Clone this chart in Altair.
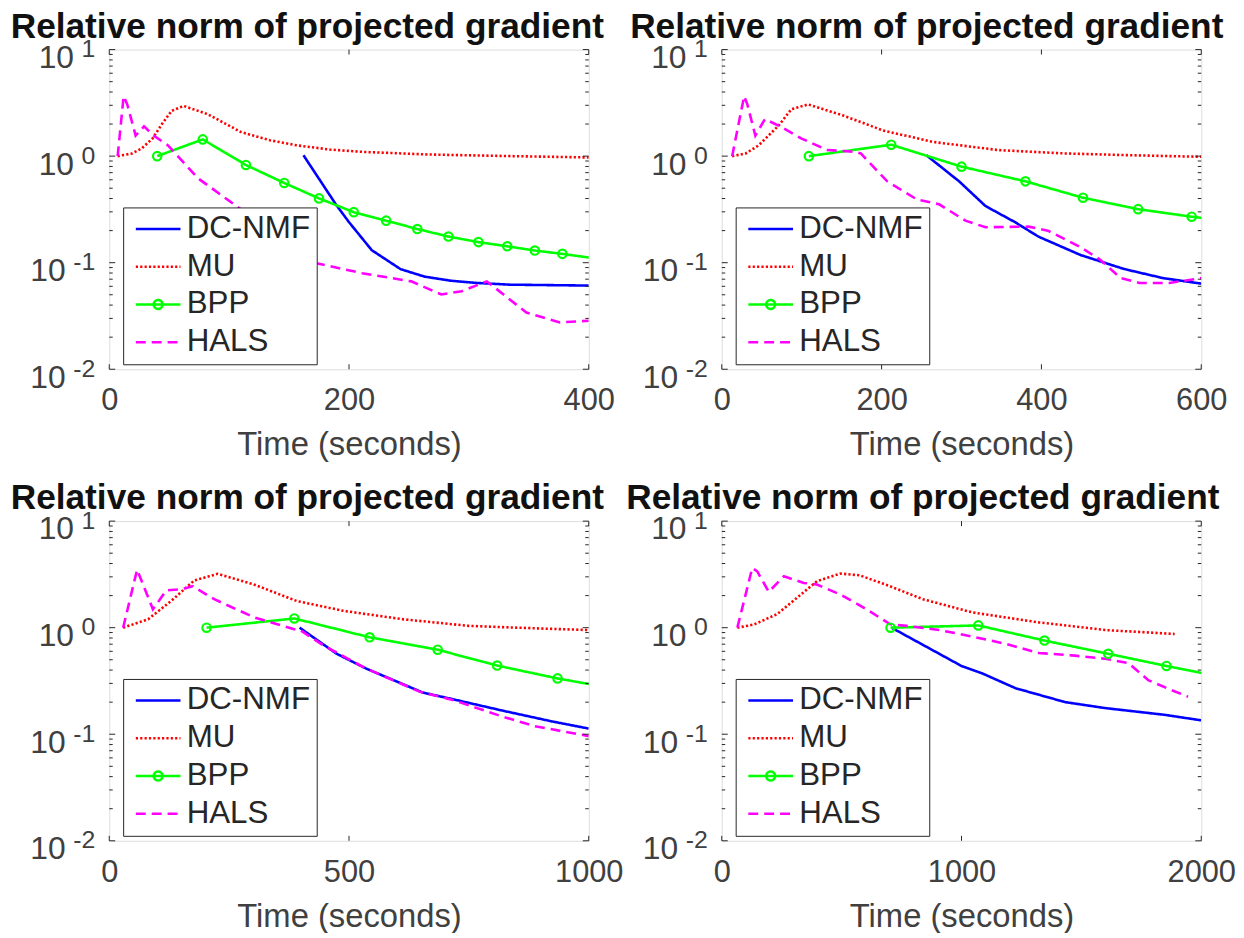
import altair as alt
import pandas as pd

FONT = "Liberation Sans"
AX = "#262626"
LAB = "#404040"

SERIES = ["DC-NMF", "MU", "BPP", "HALS"]
COLORS = ["#0000ff", "#ff0000", "#00ff00", "#ff00ff"]
DASHES = [[1, 0], [2.2, 2.2], [1, 0], [10, 6]]
LINE_PATH = "M-0.8,0H3.2"
BPP_PATH = "M-0.8,0H3.2M1.6,0A0.4,0.4,0,1,1,0.8,0A0.4,0.4,0,1,1,1.6,0"
SHAPES = [LINE_PATH, LINE_PATH, BPP_PATH, LINE_PATH]

TITLE = "Relative norm of projected gradient"
XTITLE = "Time (seconds)"

Y_TICKS = [0.01, 0.1, 1, 10]
Y_EXP = ["-2", "-1", "0", "1"]
Y_NEG = [True, True, False, False]
Y_MINOR = [m * d for d in [0.01, 0.1, 1] for m in range(2, 10)]

# ---------------- panel 1 ----------------
DC1_X = [162, 189, 200, 219, 243, 263, 285, 307, 334, 400]
DC1_Y = [1.02, 0.353, 0.24, 0.131, 0.087, 0.074, 0.0677, 0.0645, 0.0622, 0.061]
MU1_X = [7, 19, 27, 36, 44, 52, 62, 82, 110, 134, 156, 184, 211, 266, 321, 400]
MU1_Y = [1.0, 1.06, 1.18, 1.46, 2.0, 2.66, 2.96, 2.48, 1.68, 1.41, 1.265, 1.153, 1.097, 1.036, 1.007, 0.972]
BPP1_X = [40, 78, 114, 146, 175, 204, 231, 257, 283, 308, 332, 355, 378, 402]
BPP1_Y = [1.0, 1.436, 0.826, 0.56, 0.401, 0.298, 0.248, 0.207, 0.176, 0.156, 0.1425, 0.130, 0.121, 0.111]
HALS1_X = [7, 12, 15, 22, 29, 37, 49, 74, 104, 140, 173, 211, 252, 277, 294, 315, 348, 376, 400]
HALS1_Y = [1.0, 3.66, 3.06, 1.56, 1.9, 1.56, 1.26, 0.62, 0.353, 0.18, 0.0986, 0.0797, 0.0668, 0.0503, 0.054, 0.0668, 0.034, 0.0275, 0.0285]

# ---------------- panel 2 ----------------
DC2_X = [256, 297, 330, 367, 396, 449, 503, 552, 600]
DC2_Y = [1.02, 0.58, 0.34, 0.24, 0.176, 0.118, 0.0874, 0.0717, 0.0636]
MU2_X = [13, 30, 46, 71, 87, 108, 153, 202, 264, 346, 429, 511, 600]
MU2_Y = [1.0, 1.06, 1.26, 1.93, 2.75, 3.06, 2.39, 1.74, 1.36, 1.14, 1.06, 1.02, 0.986]
BPP2_X = [109, 212, 300, 380, 452, 521, 588, 655]
BPP2_Y = [1.0, 1.28, 0.797, 0.58, 0.407, 0.318, 0.27, 0.236]
HALS2_X = [13, 28, 32, 42, 54, 75, 100, 132, 166, 174, 207, 244, 272, 305, 330, 384, 408, 449, 474, 499, 523, 560, 600]
HALS2_Y = [1.0, 3.66, 3.06, 1.56, 2.23, 1.87, 1.46, 1.14, 1.1, 1.06, 0.58, 0.393, 0.353, 0.248, 0.215, 0.218, 0.2, 0.14, 0.106, 0.0717, 0.0645, 0.0645, 0.0717]

# ---------------- panel 3 ----------------
DC3_X = [397, 474, 536, 654, 709, 819, 923, 1000]
DC3_Y = [1.0, 0.57, 0.413, 0.246, 0.217, 0.167, 0.132, 0.113]
MU3_X = [29, 81, 129, 177, 226, 301, 391, 488, 612, 750, 888, 1000]
MU3_Y = [1.0, 1.2, 1.78, 2.77, 3.2, 2.55, 1.78, 1.44, 1.2, 1.04, 0.986, 0.95]
BPP3_X = [203, 386, 543, 685, 809, 935, 1060]
BPP3_Y = [1.0, 1.22, 0.813, 0.621, 0.441, 0.334, 0.265]
HALS3_X = [29, 58, 91, 119, 150, 174, 219, 302, 384, 398, 447, 536, 647, 716, 819, 888, 1000]
HALS3_Y = [1.0, 3.5, 1.49, 2.24, 2.29, 2.45, 1.85, 1.25, 0.97, 0.95, 0.68, 0.413, 0.251, 0.21, 0.147, 0.119, 0.096]

# ---------------- panel 4 ----------------
DC4_X = [708, 1000, 1088, 1226, 1433, 1599, 1848, 2000]
DC4_Y = [1.0, 0.437, 0.371, 0.27, 0.2, 0.176, 0.152, 0.135]
MU4_X = [65, 134, 231, 314, 397, 494, 576, 701, 839, 1046, 1323, 1599, 1889]
MU4_Y = [1.0, 1.07, 1.34, 1.91, 2.73, 3.22, 3.1, 2.45, 1.85, 1.39, 1.12, 0.95, 0.873]
BPP4_X = [704, 1070, 1346, 1612, 1855, 2100]
BPP4_Y = [1.0, 1.05, 0.757, 0.569, 0.437, 0.34]
HALS4_X = [65, 127, 148, 196, 259, 342, 397, 494, 604, 701, 770, 908, 1046, 1185, 1323, 1461, 1599, 1696, 1779, 1875, 1945]
HALS4_Y = [1.0, 3.63, 3.38, 2.17, 3.04, 2.63, 2.54, 2.05, 1.49, 1.08, 1.04, 0.95, 0.825, 0.705, 0.578, 0.55, 0.511, 0.466, 0.322, 0.26, 0.225]


def long_df(groups):
    rows = []
    for name, (xs, ys) in zip(SERIES, groups):
        for x, y in zip(xs, ys):
            rows.append({"series": name, "t": x, "v": y})
    return pd.DataFrame(rows)


LEG = alt.Legend(
    orient="none", legendX=14, legendY=159, title=None,
    labelFont=FONT, labelFontSize=31.5, labelColor=AX, labelOffset=26.5,
    symbolSize=506, symbolStrokeWidth=2.5, symbolFillColor="transparent",
    strokeColor=AX, fillColor="white", padding=6, rowPadding=5,
    labelLimit=400,
)

W, H = 483, 322


def panel(groups, xmax, xticks, tdx):
    w, h = W, H
    df = long_df(groups)
    xs = alt.Scale(domain=[0, xmax], nice=False, zero=False)
    ys = alt.Scale(type="log", domain=[0.01, 10], nice=False)
    cs = alt.Scale(domain=SERIES, range=COLORS)
    ds = alt.Scale(domain=SERIES, range=DASHES)
    ss = alt.Scale(domain=SERIES, range=SHAPES)
    xaxis = alt.Axis(
        values=xticks, format="d", ticks=False, tickSize=0, domain=False, grid=False,
        labelFont=FONT, labelFontSize=31, labelColor=LAB, labelPadding=17,
        labelFlush=False, labelOverlap=False,
        title=XTITLE, titleFont=FONT, titleFontSize=33, titleFontWeight="normal",
        titleColor=LAB, titlePadding=13,
    )
    X = alt.X("t:Q", scale=xs, axis=xaxis)
    Y = alt.Y("v:Q", scale=ys, axis=None)
    C = alt.Color("series:N", scale=cs, legend=LEG)
    D = alt.StrokeDash("series:N", scale=ds, legend=LEG)

    lines = alt.Chart(df).mark_line(strokeWidth=2.6, clip=True).encode(
        x=X, y=Y, color=C, strokeDash=D)
    markers = alt.Chart(df).transform_filter(
        f"datum.series == 'BPP' && datum.t <= {xmax}"
    ).mark_point(shape="circle", filled=False, size=72, strokeWidth=2.2, opacity=1).encode(
        x=X, y=Y, color=C)
    legsrc = alt.Chart(df).transform_filter("false").mark_point(
        filled=False, opacity=1, strokeWidth=2.5).encode(
        x=X, y=Y, color=C, strokeDash=D,
        shape=alt.Shape("series:N", scale=ss, legend=LEG))

    ymaj = pd.DataFrame({"v": Y_TICKS})
    ymin = pd.DataFrame({"v": Y_MINOR})
    xt = pd.DataFrame({"t": xticks})
    rule = dict(stroke=AX, strokeWidth=1)
    t1 = alt.Chart(ymaj).mark_rule(**rule).encode(y=Y, x=alt.value(0), x2=alt.value(6))
    t2 = alt.Chart(ymaj).mark_rule(**rule).encode(y=Y, x=alt.value(w), x2=alt.value(w - 6))
    t3 = alt.Chart(ymin).mark_rule(**rule).encode(y=Y, x=alt.value(0), x2=alt.value(3.5))
    t4 = alt.Chart(ymin).mark_rule(**rule).encode(y=Y, x=alt.value(w), x2=alt.value(w - 3.5))
    t5 = alt.Chart(xt).mark_rule(**rule).encode(x=X, y=alt.value(h), y2=alt.value(h - 5))
    t6 = alt.Chart(xt).mark_rule(**rule).encode(x=X, y=alt.value(0), y2=alt.value(5))

    ylab = pd.DataFrame({"v": Y_TICKS, "e": Y_EXP, "neg": Y_NEG})
    exp_t = alt.Chart(ylab).mark_text(
        align="right", baseline="alphabetic", dy=7.5, fontSize=25, font=FONT, color=LAB
    ).encode(y=Y, x=alt.value(-14), text="e:N")
    ten_p = alt.Chart(ylab).transform_filter("!datum.neg").mark_text(
        align="right", baseline="alphabetic", dy=18.5, fontSize=32, font=FONT, color=LAB
    ).encode(y=Y, x=alt.value(-35.5), text=alt.value("10"))
    ten_n = alt.Chart(ylab).transform_filter("datum.neg").mark_text(
        align="right", baseline="alphabetic", dy=18.5, fontSize=32, font=FONT, color=LAB
    ).encode(y=Y, x=alt.value(-44), text=alt.value("10"))

    return alt.layer(
        lines, markers, legsrc, t1, t2, t3, t4, t5, t6, exp_t, ten_p, ten_n
    ).properties(
        width=w, height=h,
        title=alt.TitleParams(
            TITLE, font=FONT, fontSize=35.5, fontWeight="bold", color="#111111",
            anchor="middle", frame="group", dx=tdx, baseline="top", offset=-8,
        ),
    )


p1 = panel([(DC1_X, DC1_Y), (MU1_X, MU1_Y), (BPP1_X, BPP1_Y), (HALS1_X, HALS1_Y)],
           400, [0, 200, 400], -42)
p2 = panel([(DC2_X, DC2_Y), (MU2_X, MU2_Y), (BPP2_X, BPP2_Y), (HALS2_X, HALS2_Y)],
           600, [0, 200, 400, 600], -35)
p3 = panel([(DC3_X, DC3_Y), (MU3_X, MU3_Y), (BPP3_X, BPP3_Y), (HALS3_X, HALS3_Y)],
           1000, [0, 500, 1000], -42)
p4 = panel([(DC4_X, DC4_Y), (MU4_X, MU4_Y), (BPP4_X, BPP4_Y), (HALS4_X, HALS4_Y)],
           2000, [0, 1000, 2000], -39)

chart = alt.concat(
    p1, p2, p3, p4, columns=2,
    spacing={"row": 153, "column": 134}, bounds="flush",
).resolve_scale(
    color="independent", strokeDash="independent", shape="independent",
    x="independent", y="independent",
).properties(
    padding={"left": 2, "top": -2.5, "right": 0, "bottom": -5}
).configure_view(stroke=AX, strokeWidth=1.2).configure(font=FONT)

chart.save("out.html", embed_options={"renderer": "svg", "actions": False})
